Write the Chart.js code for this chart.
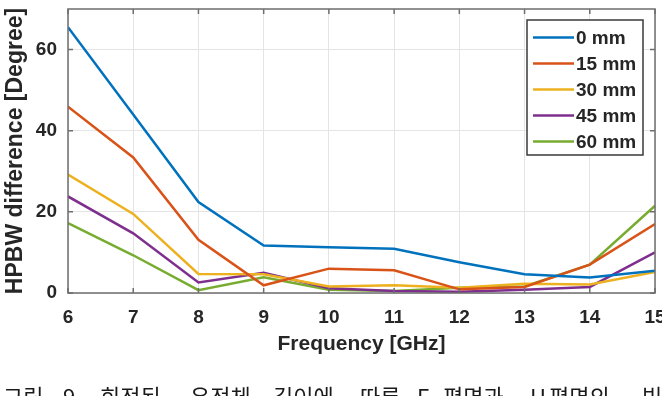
<!DOCTYPE html>
<html>
<head>
<meta charset="utf-8">
<script src="https://cdn.jsdelivr.net/npm/chart.js@4/dist/chart.umd.min.js"></script>
<style>
  html, body { margin: 0; padding: 0; background: #ffffff; }
  #wrap { width: 662px; height: 396px; overflow: hidden; }
</style>
</head>
<body>
<div id="wrap"><canvas id="c" width="662" height="396"></canvas></div>
<script>
// ---- data ----
const freqGHz = [6, 7, 8, 9, 10, 11, 12, 13, 14, 15];
const hpbw0mm  = [65.5, 44.0, 22.4, 11.7, 11.3, 10.9, 7.6, 4.6, 3.8, 5.5];
const hpbw15mm = [45.9, 33.4, 13.1, 1.9, 6.0, 5.6, 0.9, 1.5, 7.0, 17.0];
const hpbw30mm = [29.2, 19.5, 4.7, 4.6, 1.6, 1.9, 1.3, 2.3, 2.1, 5.2];
const hpbw45mm = [23.8, 14.7, 2.6, 5.0, 1.2, 0.5, 0.3, 0.8, 1.5, 10.0];
const hpbw60mm = [17.2, 9.3, 0.7, 3.9, 0.8, 0.5, 1.3, 1.6, 7.0, 21.5];
const seriesLabels = ['0 mm', '15 mm', '30 mm', '45 mm', '60 mm'];
const xTickValues = [6, 7, 8, 9, 10, 11, 12, 13, 14, 15];
const yTickValues = [0, 20, 40, 60];
const xTitle = 'Frequency [GHz]';
const yTitle = 'HPBW difference [Degree]';
const captionWords = ['그림', '9.', '회전된', '유전체', '길이에', '따른', 'E', '평면과', 'H', '평면의', '빔폭', '차이'];

// caption layout (justified text in the reference)
const captionX = [3, 63, 100, 190, 273, 360, 417, 443, 530, 549, 642, 700];

const colors = ['#0072BD', '#D95319', '#EDB120', '#7E2F8E', '#77AC30'];
const allSeries = [hpbw0mm, hpbw15mm, hpbw30mm, hpbw45mm, hpbw60mm];

const sansBold = "'Liberation Sans', Arial, sans-serif";
const textColor = '#262626';
const axisColor = '#6e6e6e';

const datasets = allSeries.map((vals, i) => ({
  label: seriesLabels[i],
  data: freqGHz.map((f, k) => ({ x: f, y: vals[k] })),
  borderColor: colors[i],
  backgroundColor: colors[i],
  borderWidth: 2.5,
  pointRadius: 0,
  tension: 0,
  fill: false
}));

// axis box, inward ticks, legend and caption
const decorPlugin = {
  id: 'decor',
  afterDatasetsDraw(chart) {
    const { ctx, chartArea: a, scales } = chart;
    ctx.save();
    ctx.strokeStyle = axisColor;
    ctx.lineWidth = 1.5;
    ctx.strokeRect(a.left, a.top, a.right - a.left, a.bottom - a.top);
    const tl = 5;
    ctx.beginPath();
    xTickValues.forEach(v => {
      const px = scales.x.getPixelForValue(v);
      ctx.moveTo(px, a.bottom); ctx.lineTo(px, a.bottom - tl);
      ctx.moveTo(px, a.top); ctx.lineTo(px, a.top + tl);
    });
    yTickValues.forEach(v => {
      const py = scales.y.getPixelForValue(v);
      ctx.moveTo(a.left, py); ctx.lineTo(a.left + tl, py);
      ctx.moveTo(a.right, py); ctx.lineTo(a.right - tl, py);
    });
    ctx.stroke();

    // legend box
    const lx = 527, ly = 20, lw = 116, lh = 135;
    ctx.fillStyle = '#ffffff';
    ctx.fillRect(lx, ly, lw, lh);
    ctx.strokeStyle = '#3a3a3a';
    ctx.lineWidth = 1.5;
    ctx.strokeRect(lx, ly, lw, lh);
    ctx.font = 'bold 19px ' + sansBold;
    ctx.textBaseline = 'middle';
    ctx.textAlign = 'left';
    chart.data.datasets.forEach((ds, i) => {
      const y = 37.5 + i * 26;
      ctx.strokeStyle = ds.borderColor;
      ctx.lineWidth = 2.5;
      ctx.beginPath();
      ctx.moveTo(533, y); ctx.lineTo(574, y);
      ctx.stroke();
      ctx.fillStyle = textColor;
      ctx.fillText(ds.label, 576, y + 1);
    });
    ctx.restore();
  },
  afterDraw(chart) {
    const { ctx } = chart;
    ctx.save();
    ctx.font = "22px 'Noto Sans CJK KR', sans-serif";
    ctx.fillStyle = '#1a1a1a';
    ctx.textBaseline = 'alphabetic';
    ctx.textAlign = 'left';
    captionWords.forEach((w, i) => ctx.fillText(w, captionX[i], 405));
    ctx.restore();
  }
};

new Chart(document.getElementById('c'), {
  type: 'line',
  data: { datasets },
  plugins: [decorPlugin],
  options: {
    responsive: false,
    animation: false,
    events: [],
    layout: { padding: { left: 0, top: 9, right: 7, bottom: 0 } },
    plugins: { legend: { display: false }, tooltip: { enabled: false }, title: { display: false } },
    scales: {
      x: {
        type: 'linear',
        min: 6, max: 15,
        afterBuildTicks: s => { s.ticks = xTickValues.map(v => ({ value: v })); },
        afterFit: s => { s.height = 103; s.paddingLeft = 0; s.paddingRight = 0; },
        grid: { color: '#e4e4e4', lineWidth: 1, drawTicks: false },
        border: { display: false },
        ticks: {
          padding: 13,
          maxRotation: 0,
          autoSkip: false,
          color: textColor,
          font: { family: sansBold, size: 19, weight: 'bold' }
        },
        title: {
          display: true,
          text: xTitle,
          color: textColor,
          font: { family: sansBold, size: 21, weight: 'bold' },
          padding: { top: 0, bottom: 39 }
        }
      },
      y: {
        type: 'linear',
        min: 0, max: 70,
        afterBuildTicks: s => { s.ticks = yTickValues.map(v => ({ value: v })); },
        afterFit: s => { s.width = 68; s.paddingTop = 0; s.paddingBottom = 0; },
        grid: { color: '#e4e4e4', lineWidth: 1, drawTicks: false },
        border: { display: false },
        ticks: {
          padding: 11,
          color: textColor,
          font: { family: sansBold, size: 19, weight: 'bold' }
        },
        title: {
          display: true,
          text: yTitle,
          color: textColor,
          font: { family: sansBold, size: 23, weight: 'bold' },
          padding: { top: 2, bottom: 0 }
        }
      }
    }
  }
});
</script>
</body>
</html>
